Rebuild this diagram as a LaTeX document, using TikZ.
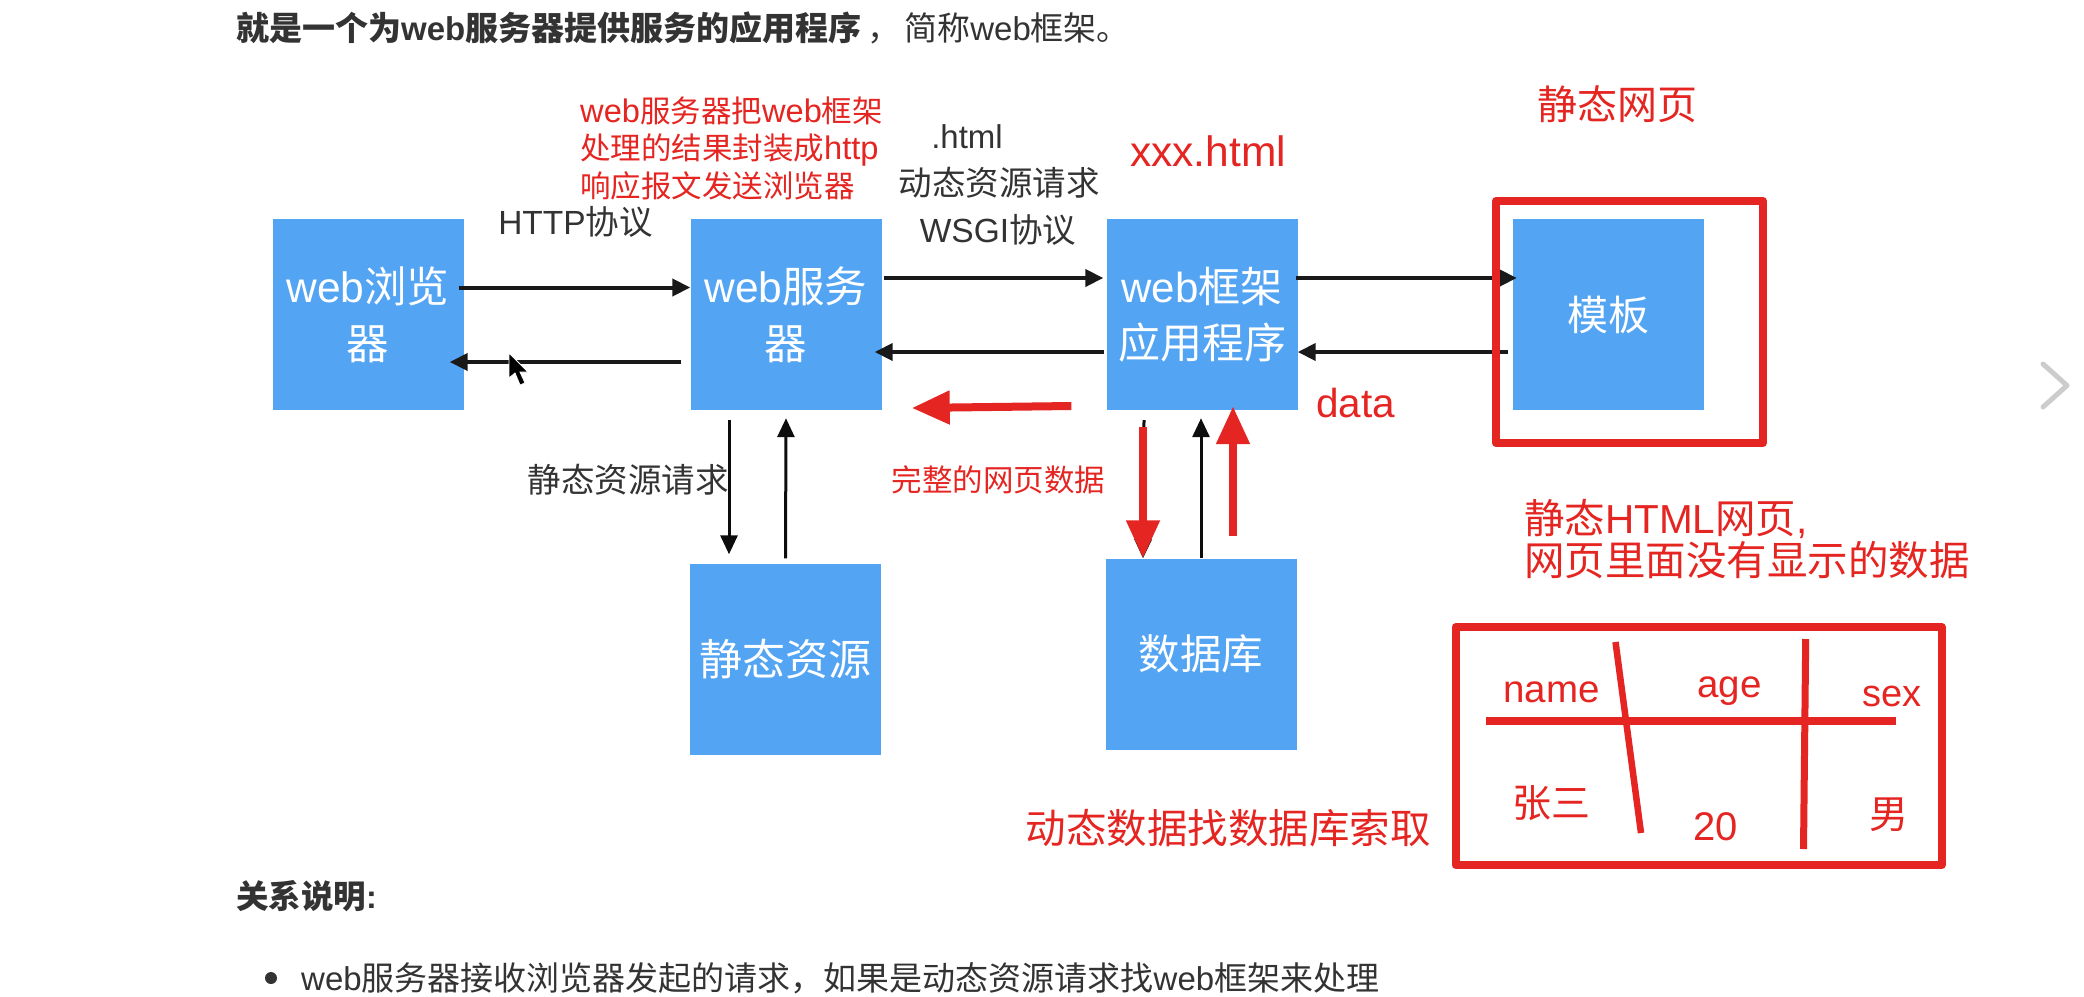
\documentclass[tikz,border=0pt]{standalone}
\usepackage{fontspec}
\usepackage{amsmath}
\usepackage{color}
\usetikzlibrary{arrows.meta}
\setmainfont{Liberation Sans}
\newfontfamily\cjkfont{Noto Sans CJK SC}
\newfontfamily\widelatin[Scale=1.07]{Liberation Sans}
\newcommand{\zh}[1]{{\cjkfont #1}}
\newcommand{\lt}[1]{{\widelatin #1}}
\definecolor{boxblue}{HTML}{53A4F3}
\definecolor{annored}{HTML}{E52521}
\definecolor{inkgrey}{HTML}{333333}
\tikzset{
  box/.style={rectangle, fill=boxblue, text=white, inner sep=0pt, minimum width=191pt, minimum height=191pt, align=center},
  fs/.style={font=\fontsize{#1}{#1}\selectfont},
  lab/.style={text=inkgrey, inner sep=0pt},
  redlab/.style={text=annored, inner sep=0pt},
  arr/.style={-{Triangle[length=18pt,width=17pt]}, line width=4pt, black!90},
  thinarr/.style={-{Triangle[length=19pt,width=17pt]}, line width=3pt, black!95},
  redarr/.style={-{Triangle[length=38pt,width=32pt]}, line width=8pt, annored},
  frameline/.style={annored, line width=8pt, line join=round}
}

\begin{document}
\begin{tikzpicture}[x=1pt,y=-1pt]
 \useasboundingbox (0,0) rectangle (2084,996);
 % page text
 \node (intro) [lab, fs=33, anchor=west] at (236,28) {\bfseries \zh{就是一个为}web\zh{服务器提供服务的应用程序}\mdseries \zh{\hspace{6pt}，\hspace{4pt}简称}web\zh{框架。}};
 \node (relation) [lab, fs=32.5, anchor=west] at (236,896) {\bfseries \zh{关系说明}:};
 \node (dot) [circle, fill=inkgrey, minimum size=12pt, inner sep=0pt] at (271,978) {};
 \node (item) [lab, fs=33, anchor=west] at (301,978) {web\zh{服务器接收浏览器发起的请求，如果是动态资源请求找}web\zh{框架来处理}};
 \draw[black!20, line width=5pt, line cap=round, line join=round] (2043,364) -- (2067,385.5) -- (2043,407);

 % blue boxes
 \begin{scope}[every node/.style={box}]
   \node (browser) [font=\fontsize{42.5}{57}\selectfont] at (368,314.5) {web\zh{浏览}\\\zh{器}};
   \node (server) [font=\fontsize{42.5}{57}\selectfont] at (786,314.5) {web\zh{服务}\\\zh{器}};
   \node (framework) [font=\fontsize{42}{56}\selectfont] at (1202,314.5) {web\zh{框架}\\\zh{应用程序}};
   \node (template) [fs=41] at (1608.5,314.5) {\zh{模板}};
   \node (static) [fs=43] at (785.5,659.5) {\zh{静态资源}};
   \node (db) [fs=41.5] at (1201,654) {\zh{数据库}};
 \end{scope}

 % black arrows
 \draw[arr] ([xshift=-5,yshift=27]browser.east) -- ([yshift=27]server.west);
 \draw[arr] ([xshift=-9,yshift=-47.5]server.west) -- ([xshift=-14,yshift=-47.5]browser.east);
 \draw[arr] ([xshift=2,yshift=36.5]server.east) -- ([xshift=-3,yshift=36.5]framework.west);
 \draw[arr] ([xshift=-2,yshift=-37.5]framework.west) -- ([xshift=-7,yshift=-37.5]server.east);
 \draw[arr] ([xshift=-2,yshift=36.5]framework.east) -- ([xshift=4,yshift=36.5]template.west);
 \draw[arr] ([xshift=-5,yshift=-37.5]template.west) -- ([yshift=-37.5]framework.east);
 \draw[thinarr] ([xshift=-57,yshift=-10]server.south) -- ([xshift=-56.5,yshift=9.5]static.north);
 \draw[thinarr] ([yshift=5.5]static.north) -- ([yshift=-8]server.south);
 \draw[thinarr] ([xshift=-58,yshift=-10]framework.south) -- ([xshift=-58]db.north);
 \draw[thinarr] (db.north) -- ([xshift=-1,yshift=-8]framework.south);

 % mouse pointer
 \draw[white, line width=.8pt, fill=black] (509,353) -- (509,378) -- (515,373) -- (520,385) -- (525,383) -- (520,372) -- (528,372) -- cycle;

 % labels of the diagram
 \node (http) [lab, fs=33.5] at (575.5,222) {HTTP\zh{协议}};
 \node (html) [lab, fs=33] at (967,137) {.html};
 \node (dynreq) [lab, fs=33.5] at (999,183) {\zh{动态资源请求}};
 \node (wsgi) [lab, fs=33.5] at (998,230) {WSGI\zh{协议}};
 \node (staticreq) [lab, fs=33.5] at (628,480) {\zh{静态资源请求}};

 % red notes
 \node (wrapnote) [redlab, font=\fontsize{30.5}{37.5}\selectfont, align=left, anchor=west] at (580,148) {\lt{web}\zh{服务器把}\lt{web}\zh{框架}\\\zh{处理的结果封装成}\lt{http}\\\zh{响应报文发送浏览器}};
 \node (xxx) [redlab, fs=42.5] at (1208,151) {xxx.html};
 \node (statictitle) [redlab, fs=40] at (1617.5,104) {\zh{静态网页}};
 \node (data) [redlab, fs=40.5, anchor=base west] at (1316,417) {data};
 \node (fullpage) [redlab, fs=30.5] at (998.5,480) {\zh{完整的网页数据}};
 \node (dynnote) [redlab, fs=40.5] at (1228,828) {\zh{动态数据找数据库索取}};
 \node (staticnote) [redlab, font=\fontsize{40.5}{42}\selectfont, align=left, anchor=west] at (1524,539) {\zh{静态}HTML\zh{网页},\\\zh{网页里面没有显示的数据}};

 % red arrows
 \draw[redarr] ([xshift=-35,yshift=-91.5]framework.west) -- ([xshift=30,yshift=-93.5]server.east);
 \draw[redarr] ([xshift=-59,yshift=-17]framework.south) -- ([xshift=-58]db.north);
 \draw[redarr] ([xshift=32,yshift=22]db.north) -- ([xshift=31,yshift=4]framework.south);

 % red frame and table
 \draw[frameline] (1496,201) rectangle (1763,443);
 \draw[frameline] (1455.5,627) rectangle (1941.5,865);
 \draw[frameline] (1486,721) -- (1896,721);
 \draw[frameline, line width=6.5pt, line cap=butt] (1615.5,642) -- (1641,833);
 \draw[frameline, line width=7pt, line cap=butt] (1805.7,639) -- (1803.5,849);
 \node (name) [redlab, fs=38.5, anchor=base west] at (1503,702) {name};
 \node (age) [redlab, fs=38.5, anchor=base west] at (1697,697) {age};
 \node (sex) [redlab, fs=38, anchor=base west] at (1862,706) {sex};
 \node (zhang) [redlab, fs=39] at (1551,803) {\zh{张三}};
 \node (twenty) [redlab, fs=40, anchor=base west] at (1693,840) {20};
 \node (male) [redlab, fs=39] at (1889,815) {\zh{男}};
\end{tikzpicture}
\end{document}
